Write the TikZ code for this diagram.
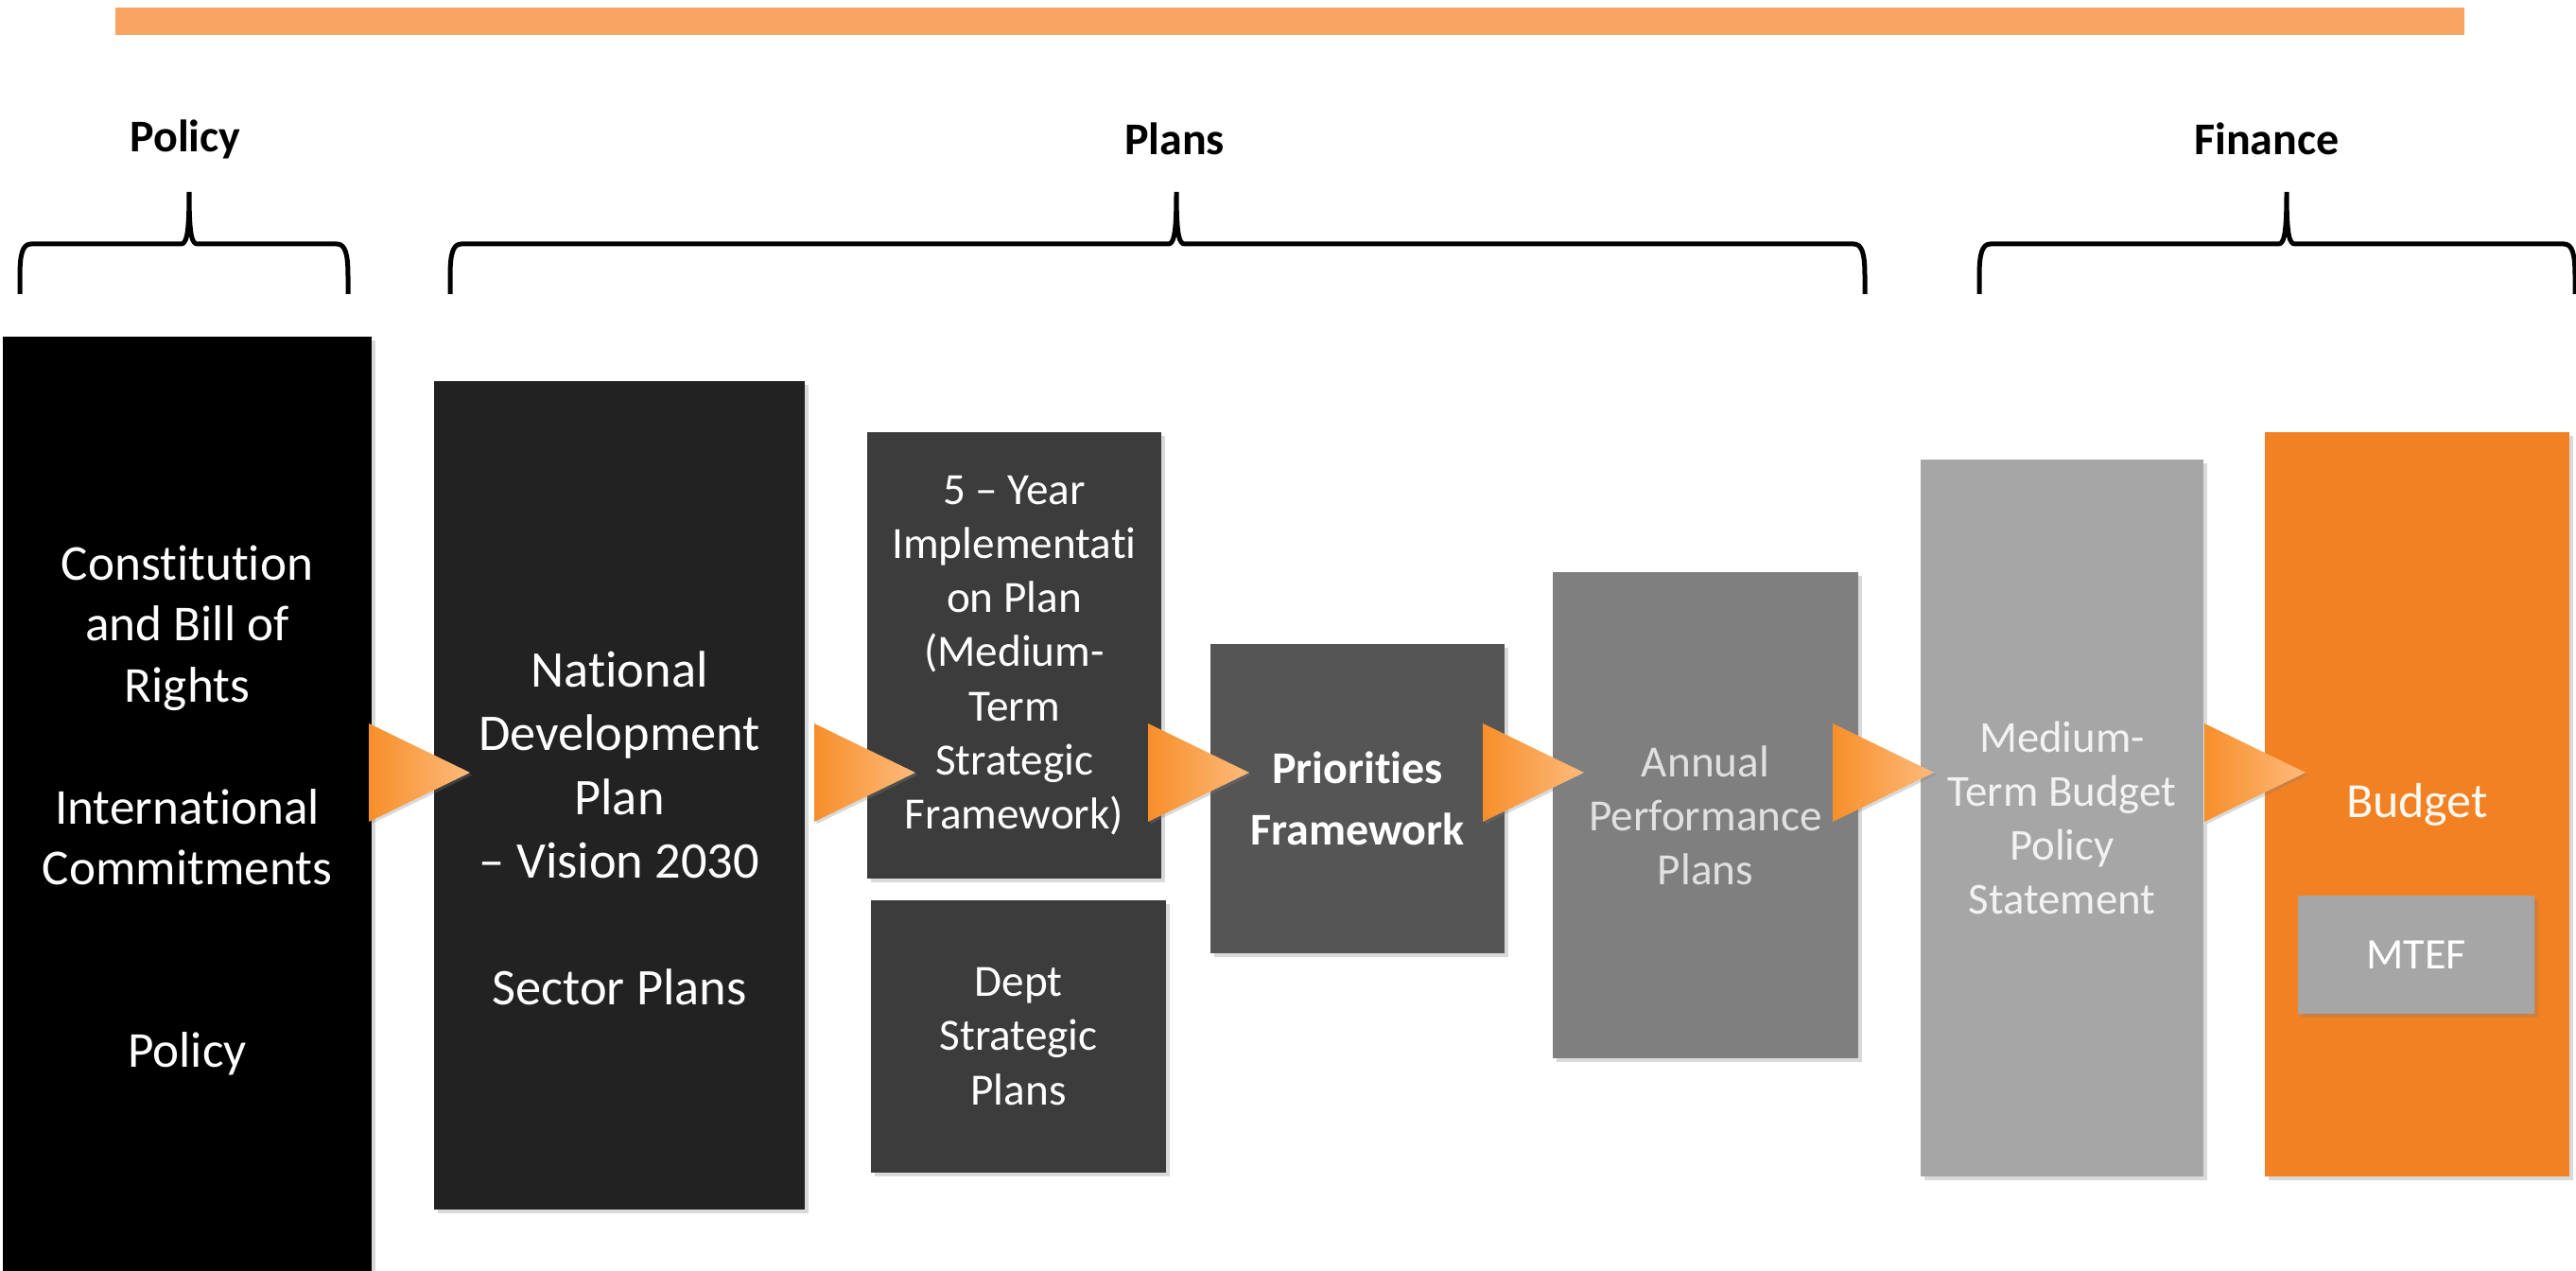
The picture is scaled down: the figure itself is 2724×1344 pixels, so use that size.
\documentclass[tikz,border=0pt]{standalone}
\usepackage{fontspec}
\setmainfont{Carlito}[Ligatures={TeX,NoCommon}]
\usetikzlibrary{shapes.geometric,shadows}

\definecolor{barorange}{HTML}{F7A560}
\definecolor{budgetorange}{HTML}{F28123}
\definecolor{arrowdark}{HTML}{F78F2A}
\definecolor{arrowlight}{HTML}{FDBA7C}
\definecolor{ndpgray}{HTML}{222222}
\definecolor{plangray}{HTML}{3C3C3C}
\definecolor{priogray}{HTML}{555555}
\definecolor{annualgray}{HTML}{7F7F7F}
\definecolor{lightgray}{HTML}{A6A6A6}

\begin{document}
\begin{tikzpicture}[x=0.25pt,y=-0.25pt,
    stage/.style={rectangle,inner sep=0pt,outer sep=0pt,text=white,align=center,
      drop shadow={shadow xshift=0.9pt,shadow yshift=-0.9pt,opacity=0.3}},
    heading/.style={font=\fontsize{12}{14}\selectfont\bfseries},
    bracket/.style={line width=1.25pt},
    flowarrow/.style={isosceles triangle,isosceles triangle stretches,
      minimum width=26pt,minimum height=26.75pt,inner sep=0pt,outer sep=0pt,
      anchor=apex,left color=arrowdark,right color=arrowlight,
      drop shadow={shadow xshift=0.6pt,shadow yshift=-0.6pt,opacity=0.3}}]
  \useasboundingbox (0,0) rectangle (2724,1344);

  % bar and headings
  \fill[barorange] (122,8) rectangle (2606,37);
  \node[heading] (policyhead) at (196,147) {Policy};
  \node[heading] (planshead) at (1242,147) {Plans};
  \node[heading] (financehead) at (2397,147) {Finance};

  \foreach \l/\t/\r in {21/200/368,476/1244/1972,2093/2418/2723}
    \draw[bracket] (\l,311) -- (\l,292) .. controls (\l,268) and (\l+3,258) .. (\l+12,258)
      -- (\t-9,258) .. controls (\t-3,258) and (\t,250) .. (\t,203)
      .. controls (\t,250) and (\t+3,258) .. (\t+9,258)
      -- (\r-12,258) .. controls (\r-3,258) and (\r,268) .. (\r,292) -- (\r,311);

  % boxes
  \node[stage,fill=black,minimum width=97.5pt,minimum height=248.5pt,
    font=\fontsize{13.3}{16.1}\selectfont] (policy) at (198,853) {};
  \node[text=white,align=center,font=\fontsize{13.3}{16.1}\selectfont] (policytext) at (198,857)
    {Constitution\\and Bill of\\Rights\\[16.1pt]International\\Commitments\\[32.2pt]Policy};
  \node[stage,fill=ndpgray,minimum width=98pt,minimum height=219pt] (ndp) at (655,841) {};
  \node[text=white,align=center,font=\fontsize{13.6}{16.8}\selectfont] (ndptext) at (655,876)
    {National\\Development\\Plan\\– Vision 2030\\[16.8pt]Sector Plans};
  \node[stage,fill=plangray,minimum width=77.75pt,minimum height=118pt,
    font=\fontsize{11.8}{14.3}\selectfont] (fiveyr) at (1072.5,693)
    {5 – Year\\Implementati\\on Plan\\(Medium-\\Term\\Strategic\\Framework)};
  \node[stage,fill=plangray,minimum width=78pt,minimum height=72pt,
    font=\fontsize{11.8}{14.3}\selectfont] (dept) at (1077,1096)
    {Dept\\Strategic\\Plans};
  \node[stage,fill=priogray,minimum width=77.75pt,minimum height=81.75pt,
    font=\fontsize{12}{16.1}\selectfont\bfseries] (prio) at (1435.5,844.5)
    {Priorities\\Framework};
  \node[stage,fill=annualgray,minimum width=80.75pt,minimum height=128.5pt,
    text=black!12,font=\fontsize{11.8}{14.3}\selectfont] (annual) at (1803.5,862)
    {Annual\\Performance\\Plans};
  \node[stage,fill=lightgray,minimum width=74.75pt,minimum height=189.5pt,
    text=black!5,font=\fontsize{11.7}{14.3}\selectfont] (mtbps) at (2180.5,865)
    {Medium-\\Term Budget\\Policy\\Statement};
  \node[stage,fill=budgetorange,minimum width=80.5pt,minimum height=196.75pt,
    text=white!95!orange,font=\fontsize{13}{16}\selectfont] (budget) at (2556,850.5)
    {Budget};
  \node[stage,fill=lightgray,minimum width=62.5pt,minimum height=31.25pt,
    font=\fontsize{11.5}{14}\selectfont] (mtef) at (2555,1009.5) {MTEF};

  % arrows
  \node[flowarrow] (a1) at (497,817) {};
  \node[flowarrow] (a2) at (968,817) {};
  \node[flowarrow] (a3) at (1321,817) {};
  \node[flowarrow] (a4) at (1675,817) {};
  \node[flowarrow] (a5) at (2045,817) {};
  \node[flowarrow] (a6) at (2438,817) {};
\end{tikzpicture}
\end{document}
